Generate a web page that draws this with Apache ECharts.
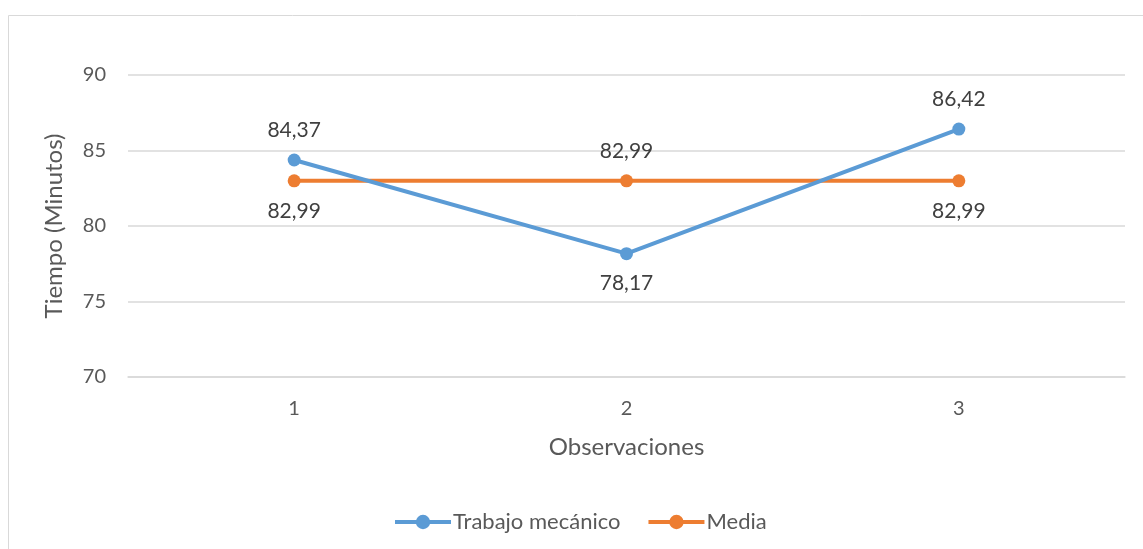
<!DOCTYPE html>
<html>
<head>
<meta charset="utf-8">
<script src="https://cdn.jsdelivr.net/npm/echarts@6/dist/echarts.min.js"></script>
<style>
  html, body { margin: 0; padding: 0; background: #fff; }
  #chart { width: 1143px; height: 549px; }
</style>
</head>
<body>
<div id="chart"></div>
<script>
// datos
var categorias = ['1', '2', '3'];
var trabajoMecanico = [84.37, 78.17, 86.42];
var media = [82.99, 82.99, 82.99];

var azul = '#5B9BD5';
var naranja = '#ED7D31';
var gris = '#595959';

function coma(p) {
  return p.value.toFixed(2).replace('.', ',');
}

// posición de etiqueta por punto (arriba / abajo)
function conEtiquetas(valores, posiciones) {
  return valores.map(function (v, i) {
    return { value: v, label: { position: posiciones[i] } };
  });
}

var myChart = echarts.init(document.getElementById('chart'));

var option = {
  animation: false,
  textStyle: { fontFamily: 'Lato', color: gris },
  graphic: [{
    type: 'rect',
    shape: { x: 8.5, y: 15.5, width: 1200, height: 600 },
    style: { fill: 'none', stroke: '#D9D9D9', lineWidth: 1 },
    silent: true
  }],
  grid: { left: 128, top: 75, width: 997, height: 302 },
  legend: {
    left: 388,
    top: 506,
    itemWidth: 56,
    itemHeight: 18,
    itemGap: 26,
    lineStyle: { width: 4 },
    textStyle: { fontSize: 22, color: gris, fontFamily: 'Lato', padding: [0, 0, 0, -3] },
    data: ['Trabajo mecánico', 'Media']
  },
  xAxis: {
    type: 'category',
    data: categorias,
    boundaryGap: true,
    name: 'Observaciones',
    nameLocation: 'middle',
    nameGap: 58,
    nameTextStyle: { fontSize: 24, color: gris },
    axisLine: { lineStyle: { color: '#D9D9D9', width: 1.5 } },
    axisTick: { show: false },
    axisLabel: { fontSize: 20, color: gris, margin: 22 }
  },
  yAxis: {
    type: 'value',
    min: 70,
    max: 90,
    interval: 5,
    name: 'Tiempo (Minutos)',
    nameLocation: 'middle',
    nameGap: 62,
    nameTextStyle: { fontSize: 24, color: gris },
    axisLine: { show: false },
    axisTick: { show: false },
    axisLabel: { fontSize: 20, color: gris, margin: 22 },
    splitLine: { lineStyle: { color: '#D9D9D9', width: 1.5 } }
  },
  series: [
    {
      name: 'Trabajo mecánico',
      type: 'line',
      data: conEtiquetas(trabajoMecanico, ['top', 'bottom', 'top']),
      symbol: 'circle',
      symbolSize: 13,
      itemStyle: { color: azul },
      lineStyle: { color: azul, width: 4 },
      label: { show: true, formatter: coma, fontSize: 21, color: '#404040', distance: 13 },
      z: 3
    },
    {
      name: 'Media',
      type: 'line',
      data: conEtiquetas(media, ['bottom', 'top', 'bottom']),
      symbol: 'circle',
      symbolSize: 13,
      itemStyle: { color: naranja },
      lineStyle: { color: naranja, width: 4 },
      label: { show: true, formatter: coma, fontSize: 21, color: '#404040', distance: 13 },
      z: 2
    }
  ]
};

myChart.setOption(option);
</script>
</body>
</html>
